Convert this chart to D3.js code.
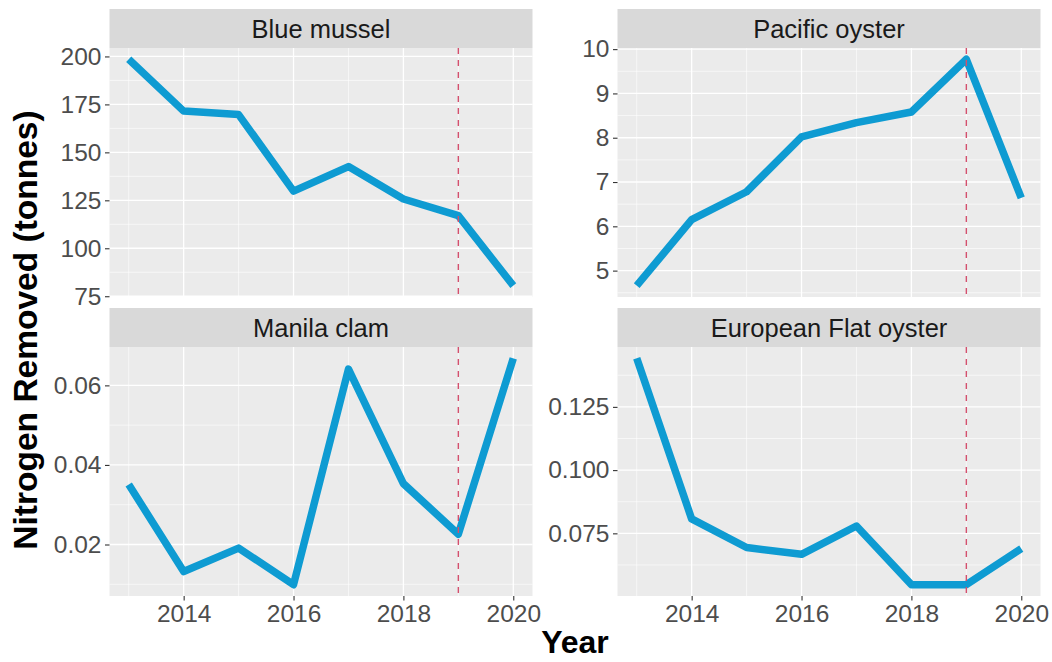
<!DOCTYPE html>
<html>
<head>
<meta charset="utf-8">
<script src="https://cdn.jsdelivr.net/npm/d3@7"></script>
<style>
  html, body { margin: 0; padding: 0; background: #ffffff; }
  svg { display: block; font-family: "Liberation Sans", Arial, Helvetica, sans-serif; }
</style>
</head>
<body>
<svg id="chart" width="1052" height="662"></svg>
<script>
// Annual nitrogen removal by species, 2013–2020
const years = [2013, 2014, 2015, 2016, 2017, 2018, 2019, 2020];
const blueMussel = [198.5, 171.5, 169.7, 129.8, 142.6, 125.7, 117.0, 80.5];
const pacificOyster = [4.66, 6.15, 6.78, 8.02, 8.34, 8.58, 9.77, 6.64];
const manilaClam = [0.0351, 0.0132, 0.0191, 0.0099, 0.0641, 0.0353, 0.0226, 0.0668];
const europeanFlatOyster = [0.1442, 0.0807, 0.0694, 0.0667, 0.0779, 0.0547, 0.0547, 0.0690];

const speciesNames = ["Blue mussel", "Pacific oyster", "Manila clam", "European Flat oyster"];
const xTicks = [2014, 2016, 2018, 2020];
const blueMusselTicks = [75, 100, 125, 150, 175, 200];
const pacificOysterTicks = [5, 6, 7, 8, 9, 10];
const manilaClamTicks = [0.02, 0.04, 0.06];
const europeanFlatOysterTicks = [0.075, 0.100, 0.125];
const referenceYear = 2019;

const svg = d3.select("#chart");

const colLeft = [109.5, 617.5], colRight = [532.5, 1040.5];
const rowStripTop = [9, 308], stripH = 39, panelH = 249;

const panels = [
  { name: speciesNames[0], values: blueMussel, ticks: blueMusselTicks, fmt: d3.format("d"), col: 0, row: 0 },
  { name: speciesNames[1], values: pacificOyster, ticks: pacificOysterTicks, fmt: d3.format("d"), col: 1, row: 0 },
  { name: speciesNames[2], values: manilaClam, ticks: manilaClamTicks, fmt: d3.format(".2f"), col: 0, row: 1 },
  { name: speciesNames[3], values: europeanFlatOyster, ticks: europeanFlatOysterTicks, fmt: d3.format(".3f"), col: 1, row: 1 }
];

// pad a continuous range by 5% on each side
function expand(ext) {
  const pad = (ext[1] - ext[0]) * 0.05;
  return [ext[0] - pad, ext[1] + pad];
}

const xDomain = expand(d3.extent(years));

panels.forEach(p => {
  const x0 = colLeft[p.col], x1 = colRight[p.col];
  const stripTop = rowStripTop[p.row];
  const top = stripTop + stripH, bottom = top + panelH;

  const x = d3.scaleLinear().domain(xDomain).range([x0, x1]);
  const y = d3.scaleLinear().domain(expand(d3.extent(p.values))).range([bottom, top]);

  const g = svg.append("g");

  // strip
  g.append("rect").attr("x", x0).attr("y", stripTop).attr("width", x1 - x0).attr("height", stripH)
    .attr("fill", "#D9D9D9");
  g.append("text").attr("x", (x0 + x1) / 2).attr("y", stripTop + 29)
    .attr("text-anchor", "middle").attr("font-size", 25.5).attr("fill", "#1A1A1A").text(p.name);

  // panel background
  g.append("rect").attr("x", x0).attr("y", top).attr("width", x1 - x0).attr("height", panelH)
    .attr("fill", "#EBEBEB");

  // minor grid
  const step = p.ticks[1] - p.ticks[0];
  const yMinor = [];
  for (let i = -1; i < p.ticks.length; i++) {
    const v = p.ticks[0] + step * (i + 0.5);
    if (v > y.domain()[0] && v < y.domain()[1]) yMinor.push(v);
  }
  const xMinor = xTicks.map(t => t - 1).filter(v => v > xDomain[0]);
  g.selectAll(".ymin").data(yMinor).enter().append("line")
    .attr("x1", x0).attr("x2", x1).attr("y1", d => y(d)).attr("y2", d => y(d))
    .attr("stroke", "#ffffff").attr("stroke-width", 0.6);
  g.selectAll(".xmin").data(xMinor).enter().append("line")
    .attr("x1", d => x(d)).attr("x2", d => x(d)).attr("y1", top).attr("y2", bottom)
    .attr("stroke", "#ffffff").attr("stroke-width", 0.6);

  // major grid
  g.selectAll(".ymaj").data(p.ticks).enter().append("line")
    .attr("x1", x0).attr("x2", x1).attr("y1", d => y(d)).attr("y2", d => y(d))
    .attr("stroke", "#ffffff").attr("stroke-width", 1.3);
  g.selectAll(".xmaj").data(xTicks).enter().append("line")
    .attr("x1", d => x(d)).attr("x2", d => x(d)).attr("y1", top).attr("y2", bottom)
    .attr("stroke", "#ffffff").attr("stroke-width", 1.3);

  // y axis
  const yAxis = d3.axisLeft(y).tickValues(p.ticks).tickFormat(p.fmt).tickSize(4.5).tickPadding(3.5);
  const ya = g.append("g").attr("transform", `translate(${x0},0)`).call(yAxis);
  ya.select(".domain").remove();
  ya.selectAll(".tick line").attr("stroke", "#333333").attr("stroke-width", 1.1);
  ya.selectAll(".tick text").attr("fill", "#4D4D4D").attr("font-size", 24.5)
    .attr("font-family", "Liberation Sans, Arial, sans-serif");

  // x axis on the bottom row only
  if (p.row === 1) {
    const xAxis = d3.axisBottom(x).tickValues(xTicks).tickFormat(d3.format("d")).tickSize(4.5).tickPadding(4);
    const xa = g.append("g").attr("transform", `translate(0,${bottom})`).call(xAxis);
    xa.select(".domain").remove();
    xa.selectAll(".tick line").attr("stroke", "#333333").attr("stroke-width", 1.1);
    xa.selectAll(".tick text").attr("fill", "#4D4D4D").attr("font-size", 24.5)
      .attr("font-family", "Liberation Sans, Arial, sans-serif");
  }

  // data line
  const line = d3.line().x((d, i) => x(years[i])).y(d => y(d));
  g.append("path").datum(p.values).attr("d", line)
    .attr("fill", "none").attr("stroke", "#0E9BD2").attr("stroke-width", 7.5)
    .attr("stroke-linejoin", "round").attr("stroke-linecap", "butt");

  // reference year marker
  g.append("line").attr("x1", x(referenceYear)).attr("x2", x(referenceYear))
    .attr("y1", top).attr("y2", bottom)
    .attr("stroke", "#D4506E").attr("stroke-width", 1.4).attr("stroke-dasharray", "6,6");
});

// axis titles
svg.append("text").attr("x", 575).attr("y", 653).attr("text-anchor", "middle")
  .attr("font-size", 32).attr("font-weight", "bold").attr("fill", "#000").text("Year");
svg.append("text").attr("transform", "translate(37,330) rotate(-90)").attr("text-anchor", "middle")
  .attr("font-size", 33.5).attr("font-weight", "bold").attr("fill", "#000").text("Nitrogen Removed (tonnes)");
</script>
</body>
</html>
